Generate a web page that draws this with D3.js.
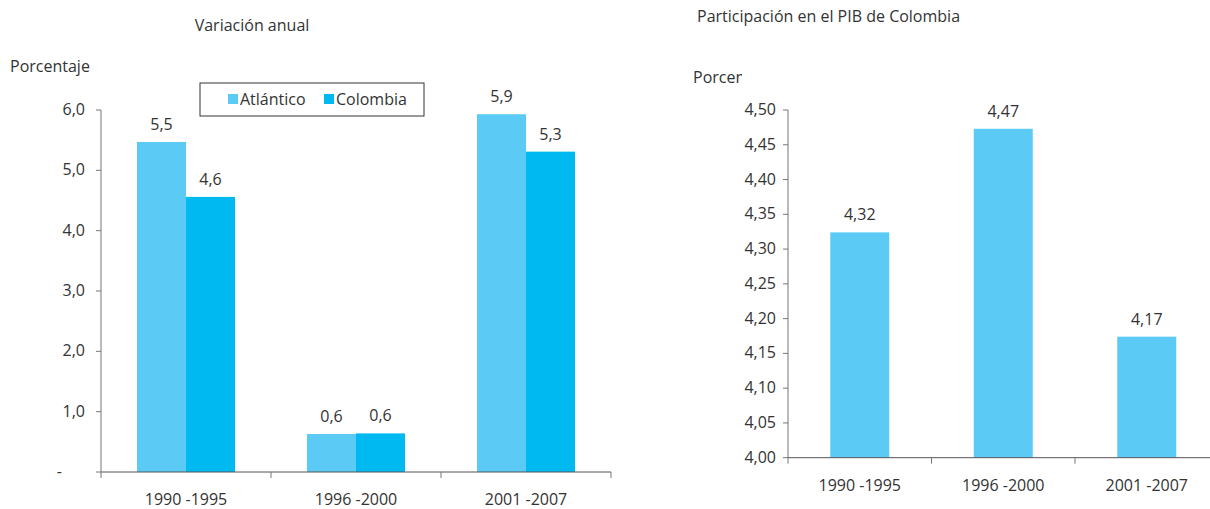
<!DOCTYPE html>
<html>
<head>
<meta charset="utf-8">
<script src="https://cdn.jsdelivr.net/npm/d3@7"></script>
<style>
  body { margin: 0; background: #fff; }
  svg text { font-family: "Open Sans", sans-serif; fill: #333; }
</style>
</head>
<body>
<svg id="chart" width="1210" height="509"></svg>
<script>
// data
const periods = ['1990 -1995', '1996 -2000', '2001 -2007']
const seriesNames = ['Atlántico', 'Colombia']
const atlantico = [5.47, 0.63, 5.93]
const colombia = [4.56, 0.64, 5.31]
const share = [4.324, 4.473, 4.174]
const leftTicks = [0, 1, 2, 3, 4, 5, 6]
const rightTicks = [4.00, 4.05, 4.10, 4.15, 4.20, 4.25, 4.30, 4.35, 4.40, 4.45, 4.50]

const colors = ['#5bcbf5', '#00b9f1']
const comma = (v, d) => v.toFixed(d).replace('.', ',')
const fs = 16

const svg = d3.select('#chart')

// ---- left chart: variación anual ----
const L = { x0: 101, x1: 611, y0: 472, y1: 110 }

const xL = d3.scaleBand().domain(periods).range([L.x0, L.x1])
const xSub = d3.scaleBand().domain(seriesNames).range([0, 98])
const yL = d3.scaleLinear().domain([0, 6]).range([L.y0, L.y1])

const left = svg.append('g')

const groups = left.selectAll('g.grp')
  .data(periods.map((p, i) => ({ p, vals: [atlantico[i], colombia[i]] })))
  .join('g')
  .attr('transform', d => `translate(${xL(d.p) + xL.bandwidth() / 2 - 49},0)`)

groups.selectAll('rect')
  .data(d => d.vals.map((v, j) => ({ v, s: seriesNames[j], j })))
  .join('rect')
  .attr('x', d => xSub(d.s))
  .attr('width', xSub.bandwidth())
  .attr('y', d => yL(d.v))
  .attr('height', d => yL(0) - yL(d.v))
  .attr('fill', d => colors[d.j])

groups.selectAll('text')
  .data(d => d.vals.map((v, j) => ({ v, s: seriesNames[j] })))
  .join('text')
  .attr('x', d => xSub(d.s) + xSub.bandwidth() / 2)
  .attr('y', d => yL(d.v) - 12)
  .attr('text-anchor', 'middle')
  .attr('font-size', fs)
  .text(d => comma(d.v, 1))

// y axis
const yAxisL = left.append('g').attr('transform', `translate(${L.x0},0)`)
yAxisL.append('line').attr('y1', L.y0).attr('y2', L.y1).attr('stroke', '#777')
yAxisL.selectAll('line.tk').data(leftTicks).join('line').attr('class', 'tk')
  .attr('x1', -5).attr('x2', 0).attr('y1', d => yL(d)).attr('y2', d => yL(d)).attr('stroke', '#777')
yAxisL.selectAll('text').data(leftTicks).join('text')
  .attr('x', d => d === 0 ? -39 : -16).attr('y', d => yL(d) + 5)
  .attr('text-anchor', 'end').attr('font-size', fs)
  .text(d => d === 0 ? '-' : comma(d, 1))

// x axis
const xAxisL = left.append('g').attr('transform', `translate(0,${L.y0})`)
xAxisL.append('line').attr('x1', L.x0).attr('x2', L.x1).attr('stroke', '#555')
xAxisL.selectAll('line.tk').data(periods.concat(['end'])).join('line').attr('class', 'tk')
  .attr('x1', (d, i) => L.x0 + i * xL.bandwidth()).attr('x2', (d, i) => L.x0 + i * xL.bandwidth())
  .attr('y1', 0).attr('y2', 6).attr('stroke', '#777')
xAxisL.selectAll('text').data(periods).join('text')
  .attr('x', d => xL(d) + xL.bandwidth() / 2).attr('y', 33)
  .attr('text-anchor', 'middle').attr('font-size', fs)
  .text(d => d)

left.append('text').attr('x', 252).attr('y', 31).attr('text-anchor', 'middle')
  .attr('font-size', fs).text('Variación anual')
left.append('text').attr('x', 10).attr('y', 72).attr('font-size', fs).text('Porcentaje')

// legend
const legend = left.append('g').attr('transform', 'translate(200,83)')
legend.append('rect').attr('width', 224).attr('height', 33)
  .attr('fill', '#fff').attr('stroke', '#333')
const items = legend.selectAll('g.item').data(seriesNames).join('g').attr('class', 'item')
  .attr('transform', (d, i) => `translate(${i === 0 ? 28 : 124},0)`)
items.append('rect').attr('y', 11).attr('width', 10).attr('height', 10).attr('fill', (d, i) => colors[i])
items.append('text').attr('x', 12).attr('y', 22).attr('font-size', fs).text(d => d)

// ---- right chart: participación en el PIB ----
const R = { x0: 788, y0: 457.7, y1: 110 }
const bandR = 143.5
const xR = d3.scaleBand().domain(periods).range([R.x0, R.x0 + bandR * periods.length])
const yR = d3.scaleLinear().domain([4.0, 4.5]).range([R.y0, R.y1])
const right = svg.append('g')

right.selectAll('rect.bar').data(periods.map((p, i) => ({ p, v: share[i] }))).join('rect')
  .attr('class', 'bar')
  .attr('x', d => xR(d.p) + xR.bandwidth() / 2 - 29.5)
  .attr('width', 59)
  .attr('y', d => yR(d.v))
  .attr('height', d => yR(4.0) - yR(d.v))
  .attr('fill', colors[0])

right.selectAll('text.val').data(periods.map((p, i) => ({ p, v: share[i] }))).join('text')
  .attr('class', 'val')
  .attr('x', d => xR(d.p) + xR.bandwidth() / 2)
  .attr('y', d => yR(d.v) - 12)
  .attr('text-anchor', 'middle').attr('font-size', fs)
  .text(d => comma(d.v, 2))

const yAxisR = right.append('g').attr('transform', `translate(${R.x0},0)`)
yAxisR.append('line').attr('y1', R.y0).attr('y2', R.y1).attr('stroke', '#777')
yAxisR.selectAll('line.tk').data(rightTicks).join('line').attr('class', 'tk')
  .attr('x1', -5).attr('x2', 0).attr('y1', d => yR(d)).attr('y2', d => yR(d)).attr('stroke', '#777')
yAxisR.selectAll('text').data(rightTicks).join('text')
  .attr('x', -12).attr('y', d => yR(d) + 5)
  .attr('text-anchor', 'end').attr('font-size', fs)
  .text(d => comma(d, 2))

const xAxisR = right.append('g').attr('transform', `translate(0,${R.y0})`)
xAxisR.append('line').attr('x1', R.x0).attr('x2', 1210).attr('stroke', '#555')
xAxisR.selectAll('line.tk').data(periods).join('line').attr('class', 'tk')
  .attr('x1', d => xR(d)).attr('x2', d => xR(d))
  .attr('y1', 0).attr('y2', 6).attr('stroke', '#777')
xAxisR.selectAll('text').data(periods).join('text')
  .attr('x', d => xR(d) + xR.bandwidth() / 2).attr('y', 33)
  .attr('text-anchor', 'middle').attr('font-size', fs)
  .text(d => d)

right.append('text').attr('x', 697).attr('y', 22).attr('font-size', fs)
  .text('Participación en el PIB de Colombia')

// the axis title is cut off in the original
svg.append('clipPath').attr('id', 'cut').append('rect')
  .attr('x', 680).attr('y', 55).attr('width', 62).attr('height', 40)
right.append('text').attr('x', 693).attr('y', 83).attr('font-size', fs)
  .attr('clip-path', 'url(#cut)').text('Porcentaje')
</script>
</body>
</html>
